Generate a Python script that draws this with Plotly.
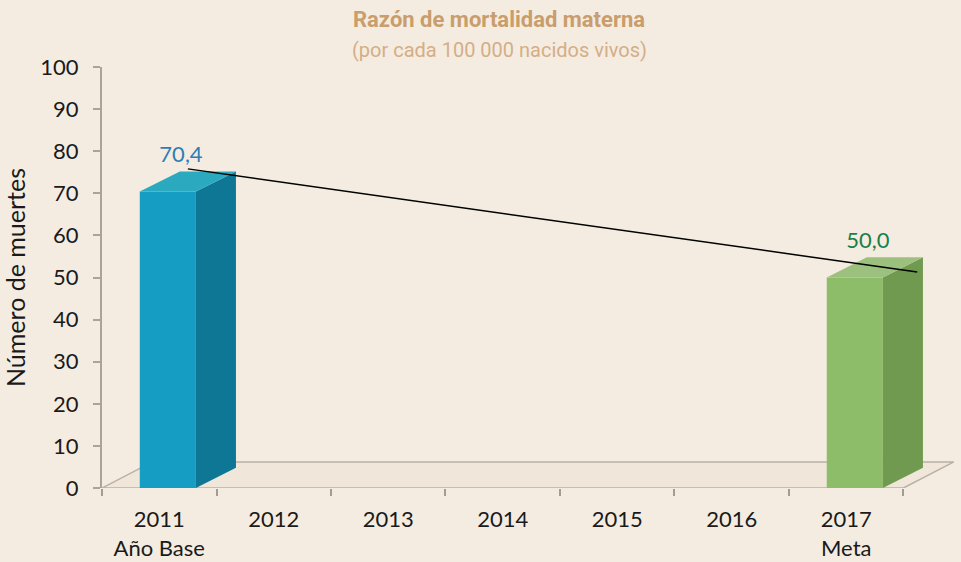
import plotly.graph_objects as go

# ---- data ----
years = ["2011", "2012", "2013", "2014", "2015", "2016", "2017"]
sublabels = ["Año Base", "", "", "", "", "", "Meta"]
bar_years_idx = [0, 6]
bar_values = [70.4, 50.0]
bar_labels = ["70,4", "50,0"]
front_colors = ["#169DC3", "#8EBD6A"]
side_colors = ["#0E7796", "#6F9A4F"]
top_colors = ["#2AA9BF", "#9CC07E"]
label_colors = ["#2E7DB8", "#1A8048"]
y_ticks = list(range(0, 101, 10))

# ---- style constants ----
BG = "#F4ECE1"
FL, FR = -0.17, 0.32      # front face extents relative to category centre
DX, DY = 0.35, 4.8        # bar depth offset (data units)
FDX, FDY = 0.44, 6.2      # floor depth offset
FLOOR_COL = "#B9B1A6"
FONT = "Lato, Calibri, Open Sans, sans-serif"
TFONT = "Liberation Sans Narrow, Arial Narrow, Roboto, sans-serif"

fig = go.Figure()
n = len(years)

# floor (drawn below the traces)
floor_path = "M {a},0 L {b},0 L {c},{h} L {d},{h} Z".format(
    a=-0.5, b=n - 0.5, c=n - 0.5 + FDX, d=-0.5 + FDX, h=FDY)
shapes = [dict(type="path", path=floor_path, xref="x", yref="y", layer="below",
               line=dict(color=FLOOR_COL, width=1.5), fillcolor="rgba(236,227,214,0.6)")]

# 3D bars
for k, (ci, v) in enumerate(zip(bar_years_idx, bar_values)):
    fig.add_trace(go.Bar(x=[ci], y=[v], base=0, offset=FL, width=FR - FL,
                         marker=dict(color=front_colors[k], line=dict(width=0)),
                         hoverinfo="skip", showlegend=False))
for k, (ci, v) in enumerate(zip(bar_years_idx, bar_values)):
    xl, xr = ci + FL, ci + FR
    fig.add_trace(go.Scatter(x=[xr, xr + DX, xr + DX, xr, xr], y=[0, DY, v + DY, v, 0],
                             mode="lines", line=dict(width=0), fill="toself",
                             fillcolor=side_colors[k], hoverinfo="skip", showlegend=False))
    fig.add_trace(go.Scatter(x=[xl, xr, xr + DX, xl + DX, xl], y=[v, v, v + DY, v + DY, v],
                             mode="lines", line=dict(width=0), fill="toself",
                             fillcolor=top_colors[k], hoverinfo="skip", showlegend=False))

# trend line between bar tops
fig.add_trace(go.Scatter(x=[bar_years_idx[0] + 0.25, bar_years_idx[1] + 0.62],
                         y=[bar_values[0] + 5.4, bar_values[1] + 1.3],
                         mode="lines", line=dict(color="black", width=1.5),
                         hoverinfo="skip", showlegend=False))

# value labels
for k, (ci, v) in enumerate(zip(bar_years_idx, bar_values)):
    fig.add_trace(go.Scatter(x=[ci + 0.19], y=[v + 8.3], mode="text", text=[bar_labels[k]],
                             textfont=dict(family=FONT, size=22, color=label_colors[k]),
                             cliponaxis=False, hoverinfo="skip", showlegend=False))

ticktext = [y + ("<br>" + s if s else "") for y, s in zip(years, sublabels)]

fig.update_layout(
    width=961, height=562,
    paper_bgcolor=BG, plot_bgcolor=BG,
    margin=dict(l=102, r=6, t=67, b=74, autoexpand=False),
    barmode="overlay",
    shapes=shapes,
    xaxis=dict(range=[-0.5, n - 0.5 + FDX + 0.01], tickmode="array", tickvals=list(range(n)),
               ticktext=ticktext, showgrid=False, zeroline=False, showline=False, ticks="",
               ticklabelstandoff=16,
               minor=dict(tickmode="array", tickvals=[i - 0.5 for i in range(n + 1)],
                          ticks="outside", ticklen=7, tickwidth=1.5, tickcolor="#A39C92",
                          showgrid=False),
               tickfont=dict(family=FONT, size=22, color="#1A1A1A"), fixedrange=True),
    yaxis=dict(range=[0, 100], tickvals=y_ticks, showgrid=False, zeroline=False,
               showline=True, linecolor="#A8A39B", linewidth=2, ticks="outside",
               ticklen=7, tickcolor="#A8A39B", tickwidth=1.5, ticklabelstandoff=10,
               tickfont=dict(family=FONT, size=22, color="#1A1A1A"),
               title=dict(text="Número de muertes", font=dict(family=FONT, size=25, color="#1A1A1A"),
                          standoff=8), fixedrange=True),
    annotations=[
        dict(text="<b>Razón de mortalidad materna</b>", xref="paper", yref="paper",
             x=0.466, y=1.112, xanchor="center", yanchor="middle", showarrow=False,
             font=dict(family=TFONT, size=22, color="#C99D6C")),
        dict(text="(por cada 100 000 nacidos vivos)", xref="paper", yref="paper",
             x=0.466, y=1.040, xanchor="center", yanchor="middle", showarrow=False,
             font=dict(family=TFONT, size=20, color="#D4AE86")),
    ],
)

fig.write_html("out.html", config={"displayModeBar": False},
               post_script="document.body.style.margin='0px';")
